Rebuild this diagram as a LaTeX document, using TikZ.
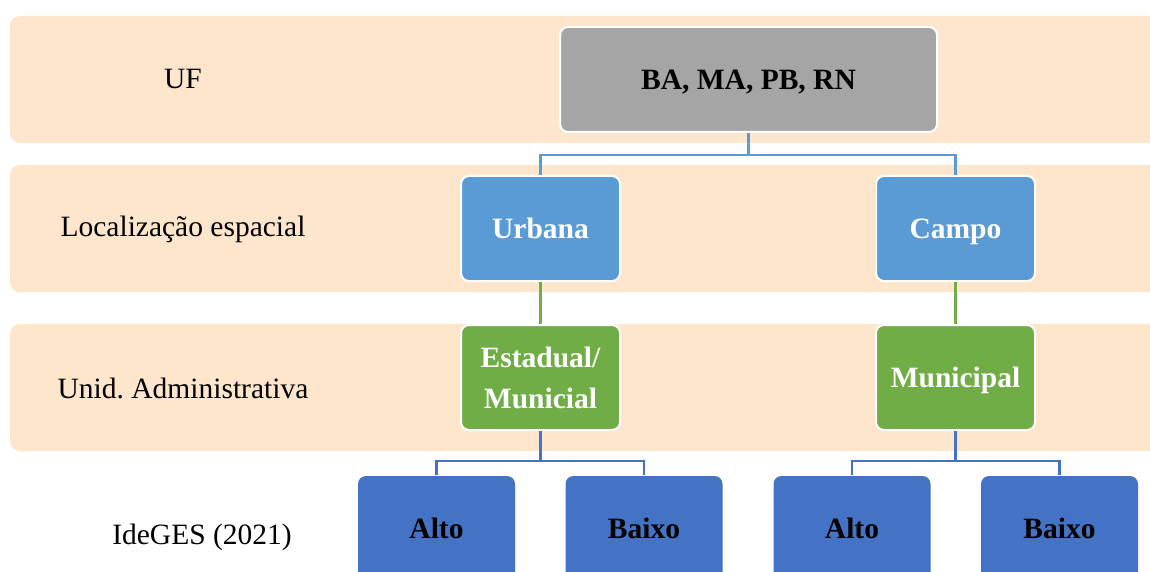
\documentclass[tikz,border=0pt]{standalone}
\usepackage{fontspec}
\setmainfont{Liberation Serif}
\definecolor{bandc}{RGB}{253,230,204}
\definecolor{grayc}{RGB}{165,165,165}
\definecolor{bluec}{RGB}{91,155,213}
\definecolor{greenc}{RGB}{112,173,71}
\definecolor{dbluec}{RGB}{68,114,196}
\begin{document}
\begin{tikzpicture}[x=1pt,y=-1pt,
  txt/.style={font=\fontsize{29.5}{41}\selectfont, inner sep=0pt},
  bandbox/.style={fill=bandc, rounded corners=10pt, minimum width=1160pt, minimum height=127pt, inner sep=0pt},
  lvl/.style={txt, text=black},
  box/.style={txt, rounded corners=8pt, draw=white, line width=2pt, minimum height=105pt, align=center},
  oneline/.style={text height=23pt, text depth=3pt},
  topbox/.style={box, oneline, fill=grayc, text=black, minimum width=377pt, font=\fontsize{29.5}{41}\selectfont\bfseries},
  midbox/.style={box, oneline, fill=bluec, text=white, minimum width=159pt, font=\fontsize{29.5}{41}\selectfont\bfseries},
  admbox/.style={box, fill=greenc, text=white, minimum width=159pt, font=\fontsize{29.5}{41}\selectfont\bfseries},
  botbox/.style={box, oneline, fill=dbluec, draw=none, text=black, minimum width=157pt, font=\fontsize{29.5}{41}\selectfont\bfseries},
  conblue/.style={draw=bluec, line width=2.5pt},
  congreen/.style={draw=greenc, line width=2.5pt},
  condblue/.style={draw=dbluec, line width=2.5pt}
]
\clip (0,0) rectangle (1150,572);
\fill[white] (0,0) rectangle (1150,572);
% bands
\node[bandbox] (band1) at (590,79.5) {};
\node[bandbox] (band2) at (590,228.5) {};
\node[bandbox] (band3) at (590,387.5) {};
% level labels
\node[lvl] (l1) at (183,79) {UF};
\node[lvl] (l2) at (183,229) {Localização espacial};
\node[lvl] (l3) at (183,388) {Unid.\ Administrativa};
\node[lvl] (l4) at (202,537) {IdeGES (2021)};
% boxes
\node[topbox] (uf) at (748.5,79.5) {BA, MA, PB, RN};
\node[midbox] (urb) at (540.5,228.5) {Urbana};
\node[midbox] (cam) at (955.5,228.5) {Campo};
\node[admbox] (est) at (540.5,377.5) {Estadual/\\Municial};
\node[admbox, oneline] (mun) at (955.5,377.5) {Municipal};
\node[botbox] (a1) at (436.5,528.5) {Alto};
\node[botbox] (b1) at (644,528.5) {Baixo};
\node[botbox] (a2) at (852,528.5) {Alto};
\node[botbox] (b2) at (1059.5,528.5) {Baixo};
% connectors
\coordinate (j1) at (748.5,155);
\coordinate (j2) at (540.5,461);
\coordinate (j3) at (955.5,461);
\draw[conblue] (uf.south) -- (j1);
\draw[conblue] (urb.north) |- (j1) -| (cam.north);
\draw[congreen] (urb.south) -- (est.north);
\draw[congreen] (cam.south) -- (mun.north);
\draw[condblue] (est.south) -- (j2);
\draw[condblue] (a1.north) |- (j2) -| (b1.north);
\draw[condblue] (mun.south) -- (j3);
\draw[condblue] (a2.north) |- (j3) -| (b2.north);
\end{tikzpicture}
\end{document}
